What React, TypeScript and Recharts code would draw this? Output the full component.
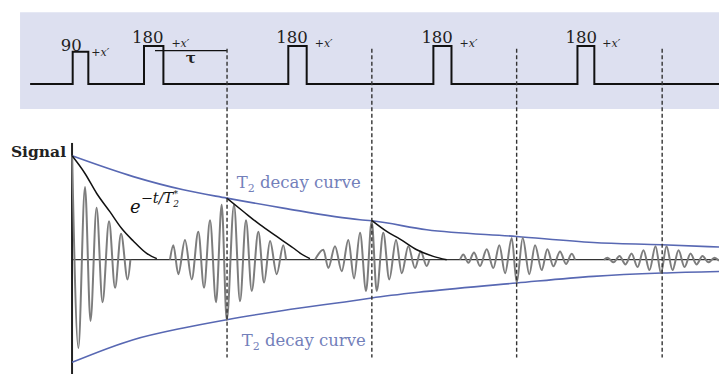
import React from "react"
import { ComposedChart, Line, XAxis, YAxis, ReferenceLine, ReferenceArea, ReferenceDot } from "recharts"

// time in units where tau = 10, 90 pulse at t = 0
const pulseStart = [-1.22, 8.63, 28.56, 48.6, 68.5]
const pulseEnd = [0.94, 11.31, 31.1, 51.1, 70.83]
const pulseHeight = [0.85, 1, 1, 1, 1]
const pulseLabels = ["90", "180", "180", "180", "180"]
const echoTimes = [20.1, 40.1, 60.1, 80.2]

// T2 envelope (signal units, 1 = initial magnetisation)
const envT = [-1.3, 7.15, 14.06, 20.06, 27.87, 38.47, 40.08, 47.68, 60.11, 70.69, 80.14, 88.05]
const envUpper = [1.0, 0.8, 0.673, 0.593, 0.497, 0.385, 0.375, 0.288, 0.224, 0.166, 0.144, 0.122]
const envLower = [-0.988, -0.77, -0.657, -0.577, -0.488, -0.385, -0.368, -0.305, -0.224, -0.16, -0.128, -0.113]

// T2* decay curves after the 90 and the first two echoes
const starT = [
  [-1.3, 0.48, 2.08, 3.94, 5.55, 7.15, 9.0, 10.4],
  [20.06, 22.35, 24.65, 26.96, 29.25, 30.18, 31.55],
  [40.08, 42.15, 43.99, 46.3, 48.59, 50.44],
]
const starA = [
  [1.0, 0.83, 0.64, 0.46, 0.3, 0.18, 0.06, 0.01],
  [0.593, 0.464, 0.337, 0.224, 0.113, 0.064, 0.01],
  [0.378, 0.272, 0.199, 0.096, 0.032, 0.0],
]

// signal extrema: FID and four echoes
const fidT = [-1.3, -0.44, 0.48, 1.24, 2.08, 2.9, 3.8, 4.63, 5.46, 6.37, 6.75]
const fidA = [1.0, -0.85, 0.7, -0.59, 0.5, -0.41, 0.37, -0.27, 0.25, -0.19, 0]
const echo1T = [12.22, 12.68, 13.37, 14.29, 15.22, 16.13, 16.92, 17.75, 18.58, 19.36, 20.06, 21.06, 21.89, 22.72, 23.51, 24.42, 25.21, 26.04, 26.96, 27.87, 28.25]
const echo1A = [0, 0.14, -0.14, 0.19, -0.19, 0.27, -0.27, 0.38, -0.41, 0.53, -0.58, 0.53, -0.4, 0.38, -0.3, 0.27, -0.22, 0.18, -0.14, 0.14, 0]
const echo2T = [32.25, 33.4, 34.09, 35.01, 35.94, 36.85, 37.64, 38.47, 39.3, 40.08, 40.77, 41.68, 42.51, 43.44, 44.23, 45.14, 46.06, 46.85, 47.68, 48.04]
const echo2A = [0, 0.096, -0.08, 0.13, -0.11, 0.19, -0.18, 0.26, -0.3, 0.37, -0.3, 0.26, -0.19, 0.19, -0.13, 0.13, -0.08, 0.08, -0.06, 0]
const echo3T = [52.28, 52.73, 53.43, 54.21, 55.04, 55.97, 56.88, 57.71, 58.5, 59.42, 60.11, 60.94, 61.85, 62.64, 63.56, 64.34, 65.17, 66.09, 66.92, 67.71, 68.16]
const echo3A = [0, 0.05, -0.03, 0.07, -0.06, 0.1, -0.08, 0.14, -0.13, 0.21, -0.22, 0.21, -0.14, 0.14, -0.1, 0.1, -0.064, 0.08, -0.04, 0.058, 0]
const echo4T = [72.17, 72.65, 73.48, 74.31, 75.14, 75.97, 76.8, 77.62, 78.45, 79.28, 80.04, 80.8, 81.63, 82.46, 83.29, 84.12, 84.94, 85.77, 86.6, 87.43, 88.05]
const echo4A = [0, 0.02, -0.025, 0.035, -0.045, 0.06, -0.07, 0.09, -0.1, 0.13, -0.13, 0.13, -0.1, 0.09, -0.07, 0.06, -0.045, 0.035, -0.025, 0.02, -0.01]

const zip = (ts: number[], vs: number[]) => ts.map((t, i) => ({ t, v: vs[i] }))

const rfTrain: { t: number; v: number }[] = [{ t: -7.1, v: 0 }]
pulseStart.forEach((s, i) => {
  rfTrain.push({ t: s, v: 0 }, { t: s, v: pulseHeight[i] }, { t: pulseEnd[i], v: pulseHeight[i] }, { t: pulseEnd[i], v: 0 })
})
rfTrain.push({ t: 88.05, v: 0 })

const waves = [zip(fidT, fidA), zip(echo1T, echo1A), zip(echo2T, echo2A), zip(echo3T, echo3A), zip(echo4T, echo4A)]

const serif = "'DejaVu Serif', serif"
const blueLine = "#5868b3"
const blueText = "#7380ba"

const note = (key: string, t: number, v: number, axis: string, draw: (x: number, y: number) => React.ReactNode) => (
  <ReferenceDot
    key={key}
    x={t}
    y={v}
    yAxisId={axis}
    r={0}
    ifOverflow="visible"
    shape={(p: any) => <g>{draw(p.cx, p.cy)}</g>}
  />
)

export default function App() {
  return (
    <div style={{ position: "absolute", left: 0, top: 0, width: 719, height: 374, background: "#fff" }}>
      <ComposedChart width={719} height={374} margin={{ top: 0, right: 0, bottom: 0, left: 0 }}>
        <XAxis type="number" dataKey="t" domain={[-11.26, 88.05]} allowDataOverflow hide />
        <YAxis yAxisId="sig" type="number" domain={[-1.1, 2.5]} allowDataOverflow hide />
        <YAxis yAxisId="rf" type="number" domain={[-7.63, 2.21]} allowDataOverflow hide />

        <ReferenceArea yAxisId="rf" x1={-8.49} x2={88.05} y1={-0.66} y2={1.89} fill="#dde0f0" fillOpacity={1} stroke="none" />

        <Line yAxisId="rf" data={rfTrain} dataKey="v" type="linear" stroke="#111" strokeWidth={2} dot={false} activeDot={false} isAnimationActive={false} />

        <ReferenceLine yAxisId="rf" segment={[{ x: 10.15, y: 0.876 }, { x: echoTimes[0], y: 0.876 }]} stroke="#111" strokeWidth={1.3} />

        <ReferenceLine yAxisId="sig" segment={[{ x: -1.31, y: 0 }, { x: 88.05, y: 0 }]} stroke="#333" strokeWidth={1.3} />
        <ReferenceLine yAxisId="sig" segment={[{ x: -1.31, y: 1.124 }, { x: -1.31, y: -1.1 }]} stroke="#222" strokeWidth={2} />

        <Line yAxisId="sig" data={zip(envT, envUpper)} dataKey="v" type="monotone" stroke={blueLine} strokeWidth={1.6} dot={false} activeDot={false} isAnimationActive={false} />
        <Line yAxisId="sig" data={zip(envT, envLower)} dataKey="v" type="monotone" stroke={blueLine} strokeWidth={1.6} dot={false} activeDot={false} isAnimationActive={false} />

        {waves.map((w, i) => (
          <Line key={"w" + i} yAxisId="sig" data={w} dataKey="v" type="monotone" stroke="#7d7d7d" strokeWidth={2} dot={false} activeDot={false} isAnimationActive={false} />
        ))}

        {starT.map((ts, i) => (
          <Line key={"s" + i} yAxisId="sig" data={zip(ts, starA[i])} dataKey="v" type="monotone" stroke="#111" strokeWidth={1.5} dot={false} activeDot={false} isAnimationActive={false} />
        ))}

        {echoTimes.map((e) => (
          <ReferenceLine key={"d" + e} yAxisId="sig" segment={[{ x: e, y: 2.03 }, { x: e, y: -0.94 }]} stroke="#333" strokeWidth={1.4} strokeDasharray="4 2.5" />
        ))}

        {pulseStart.map((s, i) =>
          note("pl" + i, s, pulseHeight[i], "rf", (x, y) => (
            <text x={x - 12} y={y - (i === 0 ? 1 : 3)} fontFamily={serif} fontSize={16.5} fill="#222">
              {pulseLabels[i]}
            </text>
          ))
        )}
        {pulseEnd.map((s, i) =>
          note("ph" + i, s, pulseHeight[i], "rf", (x, y) => (
            <text x={x + (i === 0 ? 3 : 8)} y={y + (i === 0 ? 4 : 1)} fontFamily={serif} fontSize={11} fontStyle="italic" fill="#222">
              +x′
            </text>
          ))
        )}
        {note("tau", 15.1, 0.876, "rf", (x, y) => (
          <text x={x} y={y + 12} textAnchor="middle" fontFamily={serif} fontSize={15} fontWeight="bold" fill="#222">
            τ
          </text>
        ))}

        {note("sigl", -1.31, 1.124, "sig", (x, y) => (
          <text x={x - 6} y={y + 14} textAnchor="end" fontFamily={serif} fontSize={15.5} fontWeight={600} fill="#222">
            Signal
          </text>
        ))}
        {note("t2u", 21.44, 0.692, "sig", (x, y) => (
          <text x={x} y={y} fontFamily={serif} fontSize={16.5} fill={blueText}>
            T<tspan fontSize={11} dy={4}>2</tspan>
            <tspan dy={-4}> decay curve</tspan>
          </text>
        ))}
        {note("t2l", 22.13, -0.827, "sig", (x, y) => (
          <text x={x} y={y} fontFamily={serif} fontSize={16.5} fill={blueText}>
            T<tspan fontSize={11} dy={4}>2</tspan>
            <tspan dy={-4}> decay curve</tspan>
          </text>
        ))}
        {note("star", 6.7, 0.452, "sig", (x, y) => (
          <text x={x} y={y} fontFamily={serif} fontStyle="italic" fontSize={18} fill="#111">
            e<tspan fontSize={14.5} dy={-10}>−t/T</tspan>
            <tspan fontSize={9} dy={4}>2</tspan>
            <tspan fontSize={9} dx={-5.5} dy={-10}>*</tspan>
          </text>
        ))}
      </ComposedChart>
    </div>
  )
}
